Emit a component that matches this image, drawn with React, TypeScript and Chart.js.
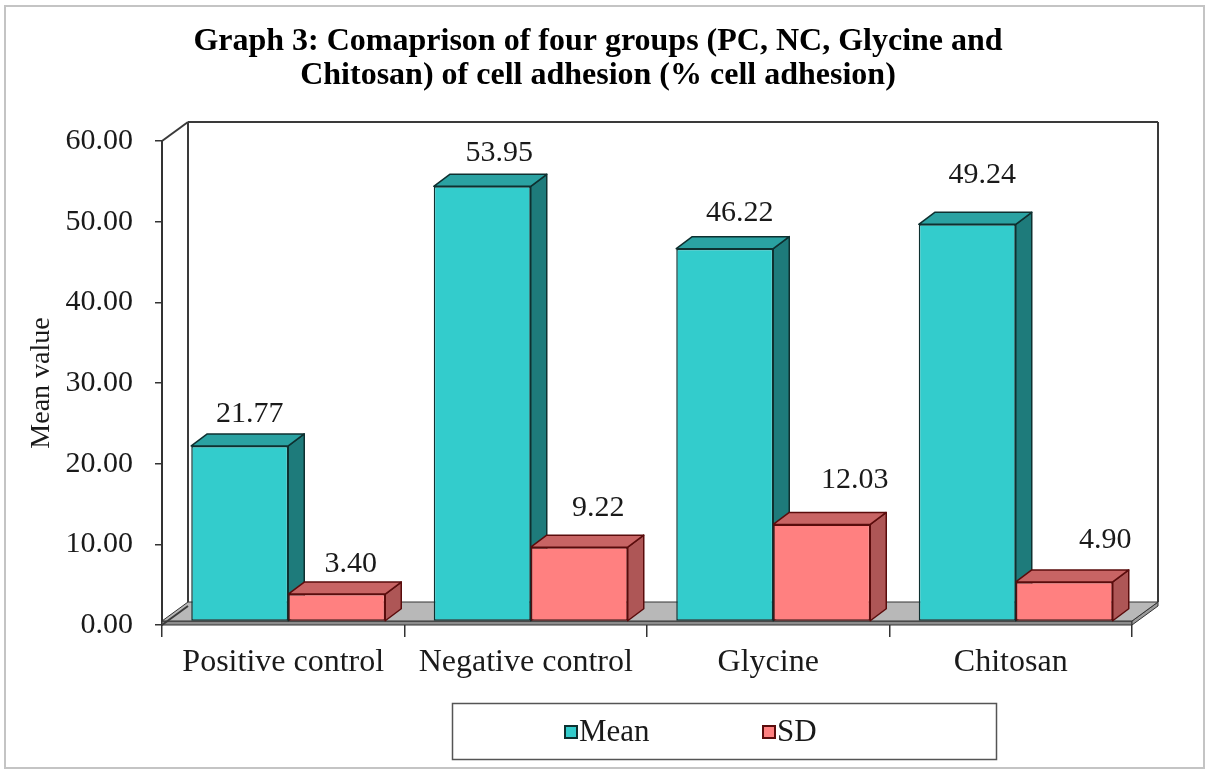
import React, { useEffect, useRef } from 'react';
import { Chart, registerables } from 'chart.js';

Chart.register(...registerables);

// ---- chart content ----
const groups = ['Positive control', 'Negative control', 'Glycine', 'Chitosan'];
const meanValues = [21.77, 53.95, 46.22, 49.24];
const sdValues = [3.4, 9.22, 12.03, 4.9];
const seriesNames = ['Mean', 'SD'];
const yTickValues = [0, 10, 20, 30, 40, 50, 60];
const titleLines = [
  'Graph 3: Comaprison of four groups (PC, NC, Glycine and',
  'Chitosan) of cell adhesion (% cell adhesion)',
];
const yAxisTitle = 'Mean value';

// hand-placed value labels: sideways shift and lift above the bar's front top edge (px)
const meanLabelShift = [2, 9, 7, 7];
const meanLabelLift = [32, 33, 36, 49];
const sdLabelShift = [6, 11, 25, 33];
const sdLabelLift = [30, 39, 44, 42];

// ---- look ----
const FONT = "'Liberation Serif', 'Times New Roman', serif";
const TEXT = '#1a1a1a';
const faces = [
  { front: '#33CCCC', top: '#2AA2A2', side: '#1E7B7B', edge: '#0E3030' },
  { front: '#FF8080', top: '#C86464', side: '#AE5656', edge: '#5A0C0C' },
];
const WALL = { dx: 26, dy: 19 };
const BAR = { dx: 16, dy: 12 };
// bars stand half-way into the box depth
const SHIFT = { dx: (WALL.dx - BAR.dx) / 2, dy: (WALL.dy - BAR.dy) / 2 };
const SLAB = 4;

type Pt = [number, number];

function poly(ctx: CanvasRenderingContext2D, pts: Pt[], fill: string, stroke: string, lw = 1.5) {
  ctx.beginPath();
  ctx.moveTo(pts[0][0], pts[0][1]);
  for (let i = 1; i < pts.length; i++) ctx.lineTo(pts[i][0], pts[i][1]);
  ctx.closePath();
  ctx.fillStyle = fill;
  ctx.fill();
  ctx.lineWidth = lw;
  ctx.strokeStyle = stroke;
  ctx.lineJoin = 'round';
  ctx.stroke();
}

function line(ctx: CanvasRenderingContext2D, x1: number, y1: number, x2: number, y2: number) {
  ctx.beginPath();
  ctx.moveTo(x1, y1);
  ctx.lineTo(x2, y2);
  ctx.stroke();
}

const box3d = {
  id: 'box3d',
  beforeDatasetsDraw(chart: any) {
    const { ctx, chartArea: a } = chart;
    ctx.save();
    // floor slab
    const fl = a.left, fr = a.right, fy = a.bottom;
    poly(ctx, [[fl, fy - SLAB], [fr, fy - SLAB], [fr, fy], [fl, fy]], '#8c8c8c', '#333', 1);
    poly(ctx, [[fr, fy - SLAB], [fr + WALL.dx, fy - SLAB - WALL.dy], [fr + WALL.dx, fy - WALL.dy], [fr, fy]], '#9a9a9a', '#333', 1);
    poly(
      ctx,
      [[fl, fy - SLAB], [fl + WALL.dx, fy - SLAB - WALL.dy], [fr + WALL.dx, fy - SLAB - WALL.dy], [fr, fy - SLAB]],
      '#b8b8b8',
      '#333',
      1
    );
    // walls
    ctx.strokeStyle = '#3a3a3a';
    ctx.lineWidth = 2;
    const bx = WALL.dx, by = WALL.dy;
    line(ctx, a.left, a.top, a.left + bx, a.top - by);
    line(ctx, a.left + bx, a.top - by, a.right + bx, a.top - by);
    line(ctx, a.left + bx, a.top - by, a.left + bx, a.bottom - by - SLAB);
    line(ctx, a.right + bx, a.top - by, a.right + bx, a.bottom - by - SLAB);
    line(ctx, a.left, a.bottom, a.left + bx, a.bottom - by);
    ctx.restore();

    // side and top faces of each bar, category by category
    ctx.save();
    ctx.translate(SHIFT.dx, -SHIFT.dy);
    for (let i = 0; i < groups.length; i++) {
      chart.data.datasets.forEach((_ds: any, d: number) => {
        const el = chart.getDatasetMeta(d).data[i];
        const { x, y, base, width } = el.getProps(['x', 'y', 'base', 'width'], true);
        const L = x - width / 2;
        const R = x + width / 2;
        const st = faces[d];
        poly(ctx, [[R, y], [R + BAR.dx, y - BAR.dy], [R + BAR.dx, base - BAR.dy], [R, base]], st.side, st.edge);
        poly(ctx, [[L, y], [L + BAR.dx, y - BAR.dy], [R + BAR.dx, y - BAR.dy], [R, y]], st.top, st.edge);
      });
    }
    // translation stays active while the front faces are drawn
  },
  afterDatasetsDraw(chart: any) {
    const { ctx } = chart;
    ctx.restore();

    // value labels
    ctx.save();
    ctx.font = `30px ${FONT}`;
    ctx.fillStyle = TEXT;
    ctx.textAlign = 'center';
    ctx.textBaseline = 'middle';
    const shifts = [meanLabelShift, sdLabelShift];
    const lifts = [meanLabelLift, sdLabelLift];
    chart.data.datasets.forEach((ds: any, d: number) => {
      chart.getDatasetMeta(d).data.forEach((el: any, i: number) => {
        const { x, y } = el.getProps(['x', 'y'], true);
        const v = ds.data[i] as number;
        ctx.fillText(
          v.toFixed(2),
          x + SHIFT.dx + BAR.dx / 2 + shifts[d][i],
          y - SHIFT.dy - lifts[d][i]
        );
      });
    });
    ctx.restore();
  },
  afterDraw(chart: any) {
    const { ctx, width, height } = chart;
    ctx.save();
    // title
    ctx.fillStyle = '#000';
    ctx.font = `bold 32px ${FONT}`;
    ctx.textAlign = 'center';
    ctx.textBaseline = 'middle';
    titleLines.forEach((t, i) => ctx.fillText(t, 598, 42 + i * 34));

    // legend
    ctx.strokeStyle = '#555';
    ctx.lineWidth = 1.5;
    ctx.strokeRect(452.5, 703.5, 544, 56);
    ctx.font = `31px ${FONT}`;
    ctx.textAlign = 'left';
    ctx.fillStyle = TEXT;
    const keyX = [565, 763];
    seriesNames.forEach((n, d) => {
      ctx.fillStyle = faces[d].front;
      ctx.fillRect(keyX[d], 726, 12, 12);
      ctx.strokeStyle = faces[d].edge;
      ctx.lineWidth = 2;
      ctx.strokeRect(keyX[d], 726, 12, 12);
      ctx.fillStyle = TEXT;
      ctx.fillText(n, keyX[d] + 14, 733);
    });

    // outer frame
    ctx.strokeStyle = '#c4c4c4';
    ctx.lineWidth = 2;
    ctx.strokeRect(5, 6, width - 9, height - 10);
    ctx.restore();
  },
};

export default function App() {
  const ref = useRef<HTMLCanvasElement | null>(null);

  useEffect(() => {
    if (!ref.current) return;
    const chart = new Chart(ref.current, {
      type: 'bar',
      data: {
        labels: groups,
        datasets: [
          {
            label: seriesNames[0],
            data: meanValues,
            backgroundColor: faces[0].front,
            borderColor: faces[0].edge,
            borderWidth: 1.5,
            borderSkipped: false,
          },
          {
            label: seriesNames[1],
            data: sdValues,
            backgroundColor: faces[1].front,
            borderColor: faces[1].edge,
            borderWidth: 1.5,
            borderSkipped: false,
          },
        ],
      },
      options: {
        responsive: false,
        animation: false,
        devicePixelRatio: 1,
        layout: { padding: { top: 141, right: 76, bottom: 0, left: 0 } },
        datasets: { bar: { categoryPercentage: 0.8, barPercentage: 1.0 } },
        plugins: {
          legend: { display: false },
          title: { display: false },
          tooltip: { enabled: false },
        },
        scales: {
          x: {
            offset: true,
            grid: {
              display: true,
              drawOnChartArea: false,
              drawTicks: true,
              tickLength: 12,
              color: '#333',
              lineWidth: 1.5,
              offset: true,
            },
            border: { display: false },
            ticks: {
              font: { family: FONT, size: 32 },
              color: TEXT,
              padding: 6,
              maxRotation: 0,
            },
            afterFit: (s: any) => {
              s.height = 147;
            },
          },
          y: {
            min: 0,
            max: 60,
            afterBuildTicks: (s: any) => {
              s.ticks = yTickValues.map((v) => ({ value: v }));
            },
            grid: {
              display: true,
              drawOnChartArea: false,
              drawTicks: true,
              tickLength: 7,
              color: '#333',
              lineWidth: 1.5,
            },
            border: { display: true, color: '#333', width: 2 },
            ticks: {
              font: { family: FONT, size: 30 },
              color: TEXT,
              padding: 22,
              callback: (v: any) => Number(v).toFixed(2),
            },
            title: {
              display: true,
              text: yAxisTitle,
              font: { family: FONT, size: 28 },
              color: TEXT,
              padding: { top: 25, bottom: 0 },
            },
            afterFit: (s: any) => {
              s.width = 162;
            },
          },
        },
      },
      plugins: [box3d],
    });
    return () => chart.destroy();
  }, []);

  return (
    <div style={{ position: 'absolute', left: 0, top: 0, width: 1208, height: 772, background: '#fff' }}>
      <canvas ref={ref} width={1208} height={772} style={{ display: 'block' }} />
    </div>
  );
}
